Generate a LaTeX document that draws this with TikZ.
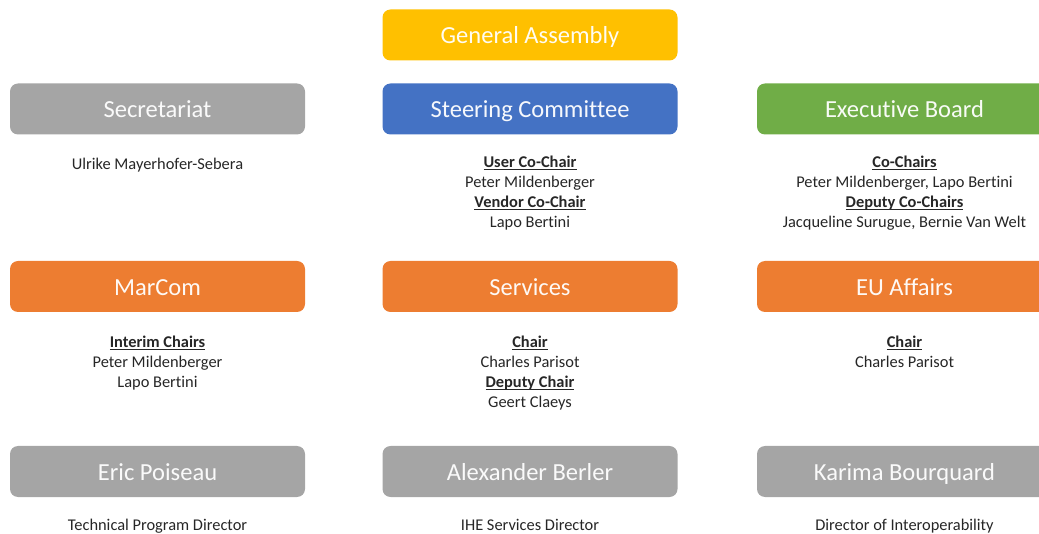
\documentclass[tikz,border=0pt]{standalone}
\usepackage{fontspec}
\setmainfont{Carlito}[Ligatures=NoCommon]
\newcommand\hd[1]{\setbox0\hbox{\bfseries #1}\rlap{\rule[-1.9pt]{\wd0}{0.75pt}}\box0}
\definecolor{gaY}{HTML}{FFC000}
\definecolor{scB}{HTML}{4472C4}
\definecolor{ebG}{HTML}{70AD47}
\definecolor{orO}{HTML}{ED7D31}
\definecolor{grG}{HTML}{A5A5A5}
\definecolor{txt}{HTML}{262626}
\tikzset{
  box/.style={fill=#1, draw=none, rounded corners=6pt, minimum width=221.25pt, minimum height=38.25pt,
    inner sep=0pt, text height=14.5pt, text depth=1pt, text=white!95!#1, font=\fontsize{18.4}{22}\selectfont},
  info/.style={align=center, anchor=north, inner sep=0pt, text=txt, font=\fontsize{12.3}{15}\selectfont}
}
\begin{document}
\begin{tikzpicture}[x=0.75pt,y=-0.75pt]
\useasboundingbox (0,0) rectangle (1039,534);
\clip (0,0) rectangle (1039,534);
% row 0
\node[box=gaY] (ga) at (530,35) {General Assembly};
% row 1
\node[box=grG] (sec) at (157.5,109) {Secretariat};
\node[box=scB] (sc) at (530,109) {Steering Committee};
\node[box=ebG] (eb) at (904.5,109) {Executive Board};
\node[info] (sect) at (157.5,158) {Ulrike Mayerhofer-Sebera};
\node[info] (sct) at (530,156) {\hd{User Co-Chair}\\Peter Mildenberger\\\hd{Vendor Co-Chair}\\Lapo Bertini};
\node[info] (ebt) at (904.5,156) {\hd{Co-Chairs}\\Peter Mildenberger, Lapo Bertini\\\hd{Deputy Co-Chairs}\\Jacqueline Surugue, Bernie Van Welt};
% row 2
\node[box=orO] (mc) at (157.5,286.5) {MarCom};
\node[box=orO] (sv) at (530,286.5) {Services};
\node[box=orO] (eu) at (904.5,286.5) {EU Affairs};
\node[info] (mct) at (157.5,336) {\hd{Interim Chairs}\\Peter Mildenberger\\Lapo Bertini};
\node[info] (svt) at (530,336) {\hd{Chair}\\Charles Parisot\\\hd{Deputy Chair}\\Geert Claeys};
\node[info] (eut) at (904.5,336) {\hd{Chair}\\Charles Parisot};
% row 3
\node[box=grG] (ep) at (157.5,471.5) {Eric Poiseau};
\node[box=grG] (ab) at (530,471.5) {Alexander Berler};
\node[box=grG] (kb) at (904.5,471.5) {Karima Bourquard};
\node[info] (ept) at (157.5,519) {Technical Program Director};
\node[info] (abt) at (530,519) {IHE Services Director};
\node[info] (kbt) at (904.5,519) {Director of Interoperability};
\end{tikzpicture}
\end{document}
